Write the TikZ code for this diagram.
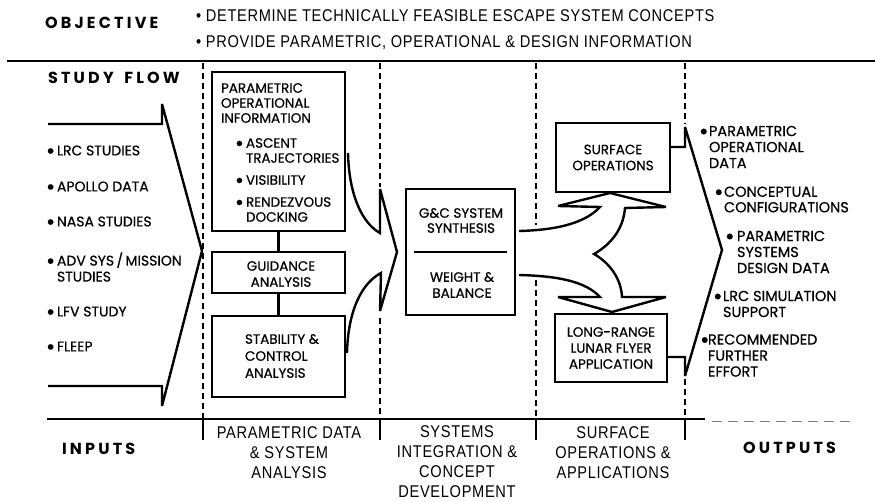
\documentclass[tikz,border=0pt]{standalone}
\usepackage{fontspec}
\setmainfont{Poppins}[FakeBold=0.6]
\newfontfamily\condf{Liberation Sans}[FakeStretch=0.86,LetterSpace=4]
\newfontfamily\headf{Poppins}[LetterSpace=20]
\newcommand\mybul[1][11pt]{\makebox[#1][l]{\raisebox{-0.22em}{\scalebox{1.6}{\textbullet}}}}
\newcommand\myind[1][11pt]{\hspace*{#1}}
\begin{document}
\begin{tikzpicture}[x=1pt,y=-1pt,
  box/.style={draw, line width=2.6pt, rectangle, inner sep=0pt, outer sep=0pt},
  btxt/.style={font=\fontsize{13.5}{16}\selectfont, align=center, inner sep=0pt, outer sep=0pt},
  ltxt/.style={font=\fontsize{13.5}{15}\selectfont, align=left, inner sep=0pt, outer sep=0pt, anchor=west},
  itxt/.style={font=\fontsize{14}{16}\selectfont, align=left, inner sep=0pt, outer sep=0pt, anchor=west},
  otxt/.style={font=\fontsize{14.5}{16}\selectfont, align=left, inner sep=0pt, outer sep=0pt, anchor=west},
  bigarrow/.style={line width=2.4pt, line join=miter, miter limit=3},
  divider/.style={line width=1.3pt, dash pattern=on 6pt off 4pt},
  stub/.style={line width=1.3pt},
  conn/.style={line width=2.4pt},
  head/.style={font=\headf\bfseries\fontsize{16}{16}\selectfont, inner sep=0pt, outer sep=0pt, anchor=west},
  cond/.style={font=\condf\fontsize{17}{20}\selectfont, align=center, inner sep=0pt, outer sep=0pt}
]
\useasboundingbox (0,0) rectangle (875,502);

% ---- header ----
\node[head] (obj) at (45,23) {OBJECTIVE};
\node[cond, anchor=base west] (ob1) at (196,22) {\textbullet\ DETERMINE TECHNICALLY FEASIBLE ESCAPE SYSTEM CONCEPTS};
\node[cond, anchor=base west] (ob2) at (196,48) {\textbullet\ PROVIDE PARAMETRIC, OPERATIONAL \& DESIGN INFORMATION};
\draw[line width=2pt] (7,61) -- (875,61);

\node[head] (sf) at (48,78) {STUDY\hspace{4pt} FLOW};

% ---- dividers ----
\draw[divider] (203,63) -- (203,419);
\draw[divider] (380,63) -- (380,187);
\draw[divider] (380,318) -- (380,419);
\draw[divider] (536,63) -- (536,225);
\draw[divider] (536,280) -- (536,419);
\draw[divider] (685,63) -- (685,124);
\draw[divider] (685,379) -- (685,419);
\draw[stub] (203,419) -- (203,440);
\draw[stub] (380,419) -- (380,440);
\draw[stub] (536,419) -- (536,440);
\draw[stub] (685,419) -- (685,440);
\draw[line width=1.6pt] (47,419) -- (705,419);
\draw[line width=0.8pt, gray, dash pattern=on 10pt off 6pt] (712,421) -- (850,421);

% ---- inputs ----
\node[itxt] (i1) at (46,152) {\mybul LRC STUDIES};
\node[itxt] (i2) at (46,188) {\mybul APOLLO DATA};
\node[itxt] (i3) at (46,223) {\mybul NASA STUDIES};
\node[itxt] (i4) at (46,267) {\mybul ADV SYS\,/\,MISSION\\\myind STUDIES};
\node[itxt] (i5) at (46,313) {\mybul LFV STUDY};
\node[itxt] (i6) at (46,348) {\mybul FLEEP};

\coordinate (la1) at (48,124);
\coordinate (la2) at (162,124);
\coordinate (la3) at (162,104);
\coordinate (latip) at (202,251);
\coordinate (la4) at (162,406);
\coordinate (la5) at (162,386);
\coordinate (la6) at (48,386);
\draw[bigarrow] (la1) -- (la2) -- (la3) -- (latip) -- (la4) -- (la5) -- (la6);

% ---- column 2 ----
\node[box, minimum width=133pt, minimum height=159pt] (b1) at (278.5,151.5) {};
\node[ltxt] (b1a) at (221,103) {PARAMETRIC\\OPERATIONAL\\INFORMATION};
\node[ltxt] (b1b) at (235,180) {\mybul ASCENT\\\myind TRAJECTORIES\\[7pt]\mybul VISIBILITY\\[7pt]\mybul RENDEZVOUS\\\myind DOCKING};
\node[box, minimum width=133pt, minimum height=41pt] (b2) at (278.5,272.5) {};
\node[btxt] (b2t) at (281,274) {GUIDANCE\\ANALYSIS};
\node[box, minimum width=133pt, minimum height=81pt] (b3) at (278.5,356.5) {};
\node[ltxt, font=\fontsize{13.5}{17}\selectfont] (b3t) at (245,356) {STABILITY \&\\CONTROL\\ANALYSIS};
\draw[conn] (b1.south) -- (b2.north);
\draw[conn] (b2.south) -- (b3.north);

\coordinate (ma1) at (348,153);
\coordinate (ma2) at (380,233);
\coordinate (ma3) at (380,189);
\coordinate (matip) at (397,252);
\coordinate (ma4) at (380,311);
\coordinate (ma5) at (381,273);
\coordinate (ma6) at (347,353);
\draw[bigarrow] (ma1) .. controls (349,195) and (362,223) .. (ma2) -- (ma3) -- (matip) -- (ma4) -- (ma5) .. controls (362,283) and (348,310) .. (ma6);

% ---- column 3 ----
\node[box, minimum width=109pt, minimum height=126pt] (b4) at (460.5,252) {};
\node[btxt, font=\fontsize{13.5}{15}\selectfont] (b4a) at (461,220.5) {G\&C SYSTEM\\SYNTHESIS};
\node[btxt] (b4b) at (462,285) {WEIGHT \&\\BALANCE};
\draw[line width=1.6pt] ([xshift=8pt]b4.west) -- ([xshift=-8pt]b4.east);

% ---- column 4 ----
\node[box, minimum width=114pt, minimum height=69pt, btxt] (b5) at (613,157.5) {SURFACE\\OPERATIONS};
\node[box, minimum width=112pt, minimum height=68pt, btxt] (b6) at (611,348) {LONG-RANGE\\LUNAR FLYER\\APPLICATION};

\coordinate (fa1) at (519,231);
\coordinate (fa2) at (600,207);
\coordinate (fa3) at (558,206);
\coordinate (fatip1) at (610,193);
\coordinate (fa4) at (666,207);
\coordinate (fa5) at (625,208);
\coordinate (facusp) at (594,254);
\coordinate (fa6) at (622,297);
\coordinate (fa7) at (666,297);
\coordinate (fatip2) at (612,312);
\coordinate (fa8) at (558,297);
\coordinate (fa9) at (600,297);
\coordinate (fa10) at (519,275);
\draw[bigarrow] (fa1) .. controls (560,230) and (586,222) .. (fa2) -- (fa3) -- (fatip1) -- (fa4) -- (fa5)
  .. controls (623,232) and (608,246) .. (facusp)
  .. controls (608,262) and (621,277) .. (fa6) -- (fa7) -- (fatip2) -- (fa8) -- (fa9)
  .. controls (586,282) and (560,276) .. (fa10);

% ---- outputs arrow ----
\coordinate (oa2) at (685,147);
\coordinate (oa3) at (685,127);
\coordinate (oatip) at (722,250);
\coordinate (oa4) at (685,376);
\coordinate (oa5) at (685,357);
\draw[bigarrow] ([yshift=10.5pt]b5.east) -- (oa2) -- (oa3) -- (oatip) -- (oa4) -- (oa5) -- ([yshift=-9pt]b6.east);

\node[otxt] (o1) at (699,147) {\mybul[10pt]PARAMETRIC\\\myind[10pt]OPERATIONAL\\\myind[10pt]DATA};
\node[otxt, font=\fontsize{14.5}{15.5}\selectfont] (o2) at (714,199.5) {\mybul[10pt]CONCEPTUAL\\\myind[10pt]CONFIGURATIONS};
\node[otxt] (o3) at (725,252) {\mybul[12pt]PARAMETRIC\\\myind[12pt]SYSTEMS\\\myind[12pt]DESIGN DATA};
\node[otxt] (o4) at (713,304) {\mybul[10pt]LRC SIMULATION\\\myind[10pt]SUPPORT};
\node[otxt] (o5) at (700,355.5) {\mybul[8pt]RECOMMENDED\\\myind[8pt]FURTHER\\\myind[8pt]EFFORT};

% ---- bottom labels ----
\node[head] (inp) at (62,449) {INPUTS};
\node[head] (outp) at (743,448) {OUTPUTS};
\node[cond] (c2) at (289,453) {PARAMETRIC DATA\\\& SYSTEM\\ANALYSIS};
\node[cond] (c3) at (457,462) {SYSTEMS\\INTEGRATION \&\\CONCEPT\\DEVELOPMENT};
\node[cond] (c4) at (613,452.5) {SURFACE\\OPERATIONS \&\\APPLICATIONS};
\end{tikzpicture}
\end{document}
